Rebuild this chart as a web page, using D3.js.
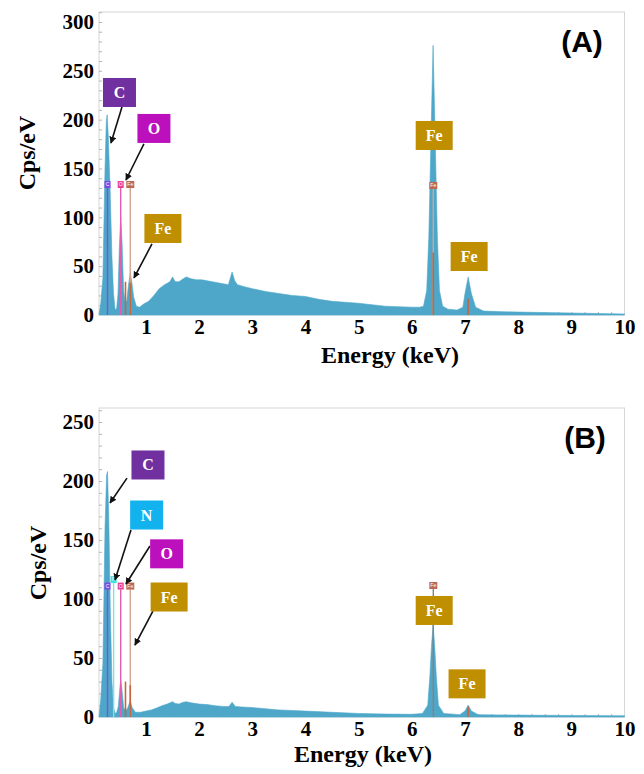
<!DOCTYPE html>
<html>
<head>
<meta charset="utf-8">
<script src="https://cdn.jsdelivr.net/npm/d3@7"></script>
<style>
  body { margin: 0; background: #fff; }
  svg { display: block; }
</style>
</head>
<body>
<svg id="chart" width="644" height="774"></svg>
<script>
// ---- Spectrum (A): energy in keV, intensity in cps/eV ----
const energyA = [0.117, 0.15, 0.19, 0.23, 0.255, 0.27, 0.29, 0.325, 0.36, 0.39, 0.42, 0.45, 0.475, 0.50, 0.525,
  0.55, 0.58, 0.61, 0.64, 0.67, 0.705, 0.73, 0.77, 0.82, 0.88, 0.95, 1.05, 1.15, 1.25, 1.35, 1.45, 1.5, 1.55,
  1.62, 1.7, 1.76, 1.85, 1.95, 2.05, 2.15, 2.25, 2.35, 2.45, 2.55, 2.62, 2.67, 2.72, 2.85, 3.0, 3.25, 3.5,
  3.75, 4.0, 4.25, 4.5, 4.75, 5.0, 5.25, 5.5, 5.75, 6.0, 6.15, 6.22, 6.28, 6.32, 6.36, 6.40, 6.44, 6.48,
  6.52, 6.58, 6.68, 6.85, 6.96, 7.0, 7.06, 7.12, 7.2, 7.35, 7.6, 8.0, 8.5, 9.0, 9.5, 10.0];
const cpsA = [0, 12, 38, 150, 198, 205, 185, 130, 60, 22, 5, 7, 22, 70, 100,
  75, 25, 12, 15, 30, 43, 35, 18, 9, 8, 11, 14, 20, 27, 31, 34, 39, 34,
  34, 37, 39, 37, 36, 36, 35, 34, 33, 32, 31, 44, 35, 31, 29, 27, 24, 22,
  20, 19, 16, 14, 13, 12, 10.5, 9, 8.5, 8, 8, 9, 25, 80, 180, 276, 180, 80,
  25, 9, 6, 5, 8, 22, 39, 22, 8, 4, 3.5, 3, 2.5, 2, 1.5, 1];

// ---- Spectrum (B) ----
const energyB = [0.117, 0.15, 0.19, 0.23, 0.26, 0.277, 0.30, 0.33, 0.36, 0.39, 0.42, 0.45, 0.48, 0.51, 0.525,
  0.545, 0.58, 0.62, 0.66, 0.705, 0.74, 0.80, 0.9, 1.0, 1.1, 1.2, 1.3, 1.4, 1.5, 1.55, 1.62, 1.7, 1.76,
  1.85, 2.0, 2.15, 2.3, 2.45, 2.56, 2.62, 2.68, 2.8, 3.0, 3.25, 3.5, 3.75, 4.0, 4.5, 5.0, 5.5, 6.0,
  6.2, 6.3, 6.34, 6.37, 6.40, 6.43, 6.46, 6.5, 6.6, 6.9, 7.0, 7.06, 7.12, 7.25, 7.6, 8.0, 9.0, 10.0];
const cpsB = [0, 15, 45, 160, 205, 208, 170, 90, 30, 8, 3, 4, 9, 25, 31,
  25, 8, 5, 8, 14, 8, 4, 4, 5, 6, 7.6, 9.5, 11, 13, 11.5, 11, 12.5, 13,
  12, 11, 10.5, 9.6, 9, 8.8, 12.5, 9, 8.5, 8, 7, 6, 5.5, 5, 4, 3, 2.5, 2.3,
  3, 10, 35, 60, 78, 60, 35, 10, 3, 2, 5, 10, 5, 2, 1.8, 1.6, 1.3, 1];

// ---- Axis tick labels ----
const xTickValues = [1, 2, 3, 4, 5, 6, 7, 8, 9, 10];
const yTicksA = [0, 50, 100, 150, 200, 250, 300];
const yTicksB = [0, 50, 100, 150, 200, 250];

// ---- X-ray line energies (keV) ----
const lineKeV = { C: 0.277, N: 0.392, O: 0.525, FeLl: 0.615, FeLa: 0.705, FeKa: 6.404, FeKb: 7.058 };

// Element identification markers: [symbol, energy, marker level in cps/eV]
const markersA = [["C", lineKeV.C, 130], ["O", lineKeV.O, 130], ["Fe", lineKeV.FeLa, 130], ["Fe", lineKeV.FeKa, 129]];
const markersB = [["C", lineKeV.C, 108], ["N", lineKeV.N, 113.5], ["O", lineKeV.O, 108], ["Fe", lineKeV.FeLa, 108], ["Fe", lineKeV.FeKa, 108.5]];

// Fe line intensity bars: [energy, height in cps/eV]
const barsA = [[lineKeV.FeLl, 34], [lineKeV.FeLa, 33], [lineKeV.FeKa, 64], [lineKeV.FeKb, 17]];
const barsB = [[lineKeV.FeLl, 30], [lineKeV.FeLa, 27], [lineKeV.FeKb, 9]];

// Callout labels: [symbol, box centre (keV, cps), arrow start (keV, cps) or null, arrow tip (keV, cps) or null]
const calloutsA = [
  ["C",  [0.502, 227.8], [0.549, 213.0], [0.342, 176.1]],
  ["O",  [1.150, 191.0], [0.962, 175.1], [0.624, 138.2]],
  ["Fe", [1.319, 88.6],  [1.113, 72.7],  [0.775, 37.9]],
  ["Fe", [6.421, 183.8], null, null],
  ["Fe", [7.078, 59.9],  null, null]
];
const calloutsB = [
  ["C",  [1.038, 213.6], [0.643, 202.5], [0.324, 181.4]],
  ["N",  [1.013, 171.2], [0.718, 158.5], [0.418, 116.1]],
  ["O",  [1.389, 138.3], [1.075, 144.9], [0.624, 112.7]],
  ["Fe", [1.436, 101.7], [1.131, 89.8],  [0.793, 61.0]],
  ["Fe", [6.421, 90.3],  null, null],
  ["Fe", [7.039, 28.1],  null, null]
];

// ---- Styling ----
const boxColor = { C: "#7030a0", N: "#12b2ee", O: "#bb10bb", Fe: "#bf8f00" };
const markerColor = { C: "#8246e6", N: "#39e3e6", O: "#e8409a", Fe: "#bb6a52" };
const markerLineColor = { C: "#7656dc", N: "#84dfe4", O: "#e45cb0", Fe: "#d3a58e" };
const fillColor = "#4ea7c9";
const serif = "'Liberation Serif', 'Times New Roman', serif";

const svg = d3.select("#chart");

svg.append("defs").append("marker")
  .attr("id", "arrowhead")
  .attr("viewBox", "0 0 10 10")
  .attr("refX", 9).attr("refY", 5)
  .attr("markerWidth", 7).attr("markerHeight", 7)
  .attr("markerUnits", "userSpaceOnUse")
  .attr("orient", "auto")
  .append("path").attr("d", "M0,0 L10,5 L0,10 Z").attr("fill", "#111");

function drawPanel(cfg) {
  const x = d3.scaleLinear().domain([0.117, 10]).range([cfg.left, cfg.right]);
  const y = d3.scaleLinear().domain([0, cfg.yMax]).range([cfg.bottom, cfg.top]);
  const g = svg.append("g");

  // plot frame
  g.append("rect")
    .attr("x", cfg.left).attr("y", cfg.top)
    .attr("width", cfg.right - cfg.left).attr("height", cfg.bottom - cfg.top)
    .attr("fill", "none").attr("stroke", "#d6d6d6").attr("stroke-width", 1);

  // inner minor ticks
  const minorY = g.append("g").attr("transform", `translate(${cfg.left},0)`)
    .call(d3.axisRight(y).tickValues(d3.range(10, cfg.yMax, 10)).tickSize(3).tickFormat(""));
  minorY.select(".domain").remove();
  minorY.selectAll("line").attr("stroke", "#b5b5b5");
  const minorX = g.append("g").attr("transform", `translate(0,${cfg.bottom})`)
    .call(d3.axisTop(x).tickValues(d3.range(0.25, 10, 0.25)).tickSize(3).tickFormat(""));
  minorX.select(".domain").remove();
  minorX.selectAll("line").attr("stroke", "#b5b5b5");

  // spectrum
  const data = cfg.energy.map((e, i) => [e, cfg.cps[i]]);
  g.append("path")
    .datum(data)
    .attr("fill", fillColor)
    .attr("stroke", fillColor)
    .attr("stroke-width", 0.6)
    .attr("d", d3.area().x(d => x(d[0])).y0(y(0)).y1(d => y(d[1])));

  // element marker lines
  cfg.markers.forEach(([sym, e, lvl]) => {
    g.append("line")
      .attr("x1", x(e)).attr("x2", x(e))
      .attr("y1", y(lvl)).attr("y2", y(0))
      .attr("stroke", cfg.feKaGray && sym === "Fe" && e > 6 ? "#8c817c" : markerLineColor[sym])
      .attr("stroke-width", 1.4);
  });
  // Fe line intensity bars
  cfg.bars.forEach(([e, h]) => {
    g.append("line")
      .attr("x1", x(e)).attr("x2", x(e))
      .attr("y1", y(h)).attr("y2", y(0))
      .attr("stroke", "#c7653c").attr("stroke-width", 1.6);
  });
  // element marker tags
  cfg.markers.forEach(([sym, e, lvl]) => {
    const w = sym === "Fe" ? 8 : 6;
    g.append("rect")
      .attr("x", x(e) - w / 2).attr("y", y(lvl) - 7)
      .attr("width", w).attr("height", 7)
      .attr("fill", markerColor[sym]);
    g.append("text")
      .attr("x", x(e)).attr("y", y(lvl) - 1.6)
      .attr("text-anchor", "middle")
      .attr("font-family", "'Liberation Sans', Arial, sans-serif")
      .attr("font-size", 5).attr("fill", "#fff")
      .text(sym);
  });

  // callouts
  cfg.callouts.forEach(([sym, c, from, to]) => {
    if (from) {
      g.append("line")
        .attr("x1", x(from[0])).attr("y1", y(from[1]))
        .attr("x2", x(to[0])).attr("y2", y(to[1]))
        .attr("stroke", "#111").attr("stroke-width", 1.6)
        .attr("marker-end", "url(#arrowhead)");
    }
    const w = sym === "Fe" ? 37 : 33, h = 29;
    g.append("rect")
      .attr("x", x(c[0]) - w / 2).attr("y", y(c[1]) - h / 2)
      .attr("width", w).attr("height", h)
      .attr("fill", boxColor[sym]);
    g.append("text")
      .attr("x", x(c[0])).attr("y", y(c[1]) + 5.5)
      .attr("text-anchor", "middle")
      .attr("font-family", serif).attr("font-weight", "bold")
      .attr("font-size", 16).attr("fill", "#fff")
      .text(sym);
  });

  // tick labels
  const yAx = g.append("g").attr("transform", `translate(${cfg.left},0)`)
    .call(d3.axisLeft(y).tickValues(cfg.yTicks).tickSize(0).tickPadding(5));
  yAx.select(".domain").remove();
  yAx.selectAll("text").attr("font-family", serif).attr("font-weight", "bold")
    .attr("font-size", 21).attr("fill", "#000");
  const xAx = g.append("g").attr("transform", `translate(0,${cfg.bottom})`)
    .call(d3.axisBottom(x).tickValues(xTickValues).tickSize(0).tickPadding(4));
  xAx.select(".domain").remove();
  xAx.selectAll("text").attr("font-family", serif).attr("font-weight", "bold")
    .attr("font-size", 21).attr("fill", "#000");

  // axis titles
  g.append("text")
    .attr("x", cfg.xTitle[0]).attr("y", cfg.xTitle[1])
    .attr("text-anchor", "middle")
    .attr("font-family", serif).attr("font-weight", "bold").attr("font-size", 24)
    .text("Energy (keV)");
  g.append("text")
    .attr("transform", `translate(${cfg.yTitle[0]},${cfg.yTitle[1]}) rotate(-90)`)
    .attr("text-anchor", "middle")
    .attr("font-family", serif).attr("font-weight", "bold").attr("font-size", 24)
    .text("Cps/eV");

  // panel tag
  g.append("text")
    .attr("x", cfg.tag[0]).attr("y", cfg.tag[1])
    .attr("text-anchor", "middle")
    .attr("font-family", "'Liberation Sans', Arial, sans-serif")
    .attr("font-weight", "bold").attr("font-size", 30)
    .text(cfg.tagText);
}

drawPanel({
  left: 99, right: 624.5, top: 12, bottom: 315, yMax: 310.2,
  energy: energyA, cps: cpsA, yTicks: yTicksA,
  markers: markersA, bars: barsA, callouts: calloutsA,
  xTitle: [390, 363], yTitle: [35, 153], tag: [582, 52], tagText: "(A)"
});
drawPanel({
  left: 99, right: 624.5, top: 408, bottom: 717, yMax: 261.9,
  energy: energyB, cps: cpsB, yTicks: yTicksB,
  markers: markersB, bars: barsB, callouts: calloutsB, feKaGray: true,
  xTitle: [363, 762], yTitle: [46, 563], tag: [585, 448], tagText: "(B)"
});
</script>
</body>
</html>
